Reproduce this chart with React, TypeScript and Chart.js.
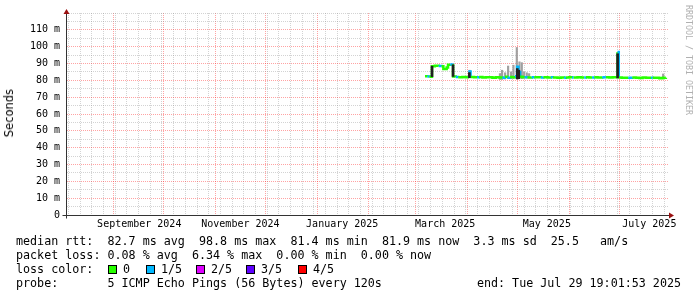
import React, { useEffect, useRef } from "react";
import { Chart, registerables } from "chart.js";

Chart.register(...registerables);

// x values: days since 2024-09-01
const X_MIN = -27.9;
const X_MAX = 332.2;

const monthStartDays = [0, 30, 61, 91, 122, 153, 181, 212, 242, 273, 303];
const monthLabelDays = [15.4, 76, 137, 198.7, 259.6, 321];
const monthLabels = ["September 2024", "November 2024", "January 2025", "March 2025", "May 2025", "July 2025"];
const weekStartDays: number[] = [];
for (let d = -27; d <= 331; d += 7) weekStartDays.push(d);

const Y_MIN = 0;
const Y_MAX = 120;

// median rtt (ms) with number of lost pings (of 5)
const medianDays = [186.6, 188.0, 189.2, 190.8, 192.5, 194.8, 196.5, 197.6, 199.6, 200.4, 201.7, 203.0, 203.4, 205.0, 206.5, 209.0, 211.0, 212.3, 213.3, 213.9, 216.0, 217.8, 219.0, 221.0, 223.0, 225.0, 227.0, 229.0, 231.0, 233.0, 234.5, 236.0, 237.5, 239.0, 240.5, 241.8, 242.6, 243.6, 245.0, 246.3, 248.0, 250.5, 252.0, 254.0, 256.0, 257.5, 260.0, 262.0, 263.2, 266.0, 268.0, 270.0, 271.0, 273.0, 274.7, 275.7, 278.0, 280.0, 282.0, 283.0, 285.0, 286.7, 288.0, 290.0, 292.8, 295.0, 297.0, 299.0, 301.2, 302.0, 302.7, 304.5, 306.0, 308.4, 310.8, 313.0, 315.0, 317.0, 319.0, 322.0, 323.0, 325.0, 327.0, 329.0, 330.9];
const medianMs = [82.4, 82.3, 82.2, 88.3, 88.7, 88.5, 88.4, 86.8, 87.6, 89.2, 89.4, 88.9, 82.3, 82.0, 81.9, 82.0, 81.8, 82.1, 85.2, 82.0, 81.9, 81.8, 82.0, 81.7, 81.8, 81.9, 81.6, 81.8, 81.7, 81.6, 82.2, 81.5, 82.0, 81.8, 82.4, 88.0, 85.0, 82.2, 81.9, 81.8, 81.7, 81.8, 81.9, 81.8, 81.7, 81.8, 81.7, 81.8, 81.7, 81.6, 81.7, 81.6, 81.7, 81.8, 81.7, 81.7, 81.8, 81.7, 81.7, 81.8, 81.7, 81.7, 81.8, 81.7, 81.8, 81.8, 81.7, 81.8, 81.8, 96.8, 81.7, 81.6, 81.5, 81.6, 81.7, 81.6, 81.4, 81.7, 81.5, 81.6, 81.5, 81.6, 81.3, 81.5, 81.6];
const medianLoss = [0, 1, 0, 0, 0, 1, 0, 0, 0, 0, 1, 0, 0, 1, 0, 0, 0, 1, 1, 0, 0, 1, 0, 0, 0, 0, 0, 0, 0, 1, 0, 1, 0, 0, 1, 1, 1, 0, 0, 1, 0, 1, 0, 0, 1, 0, 0, 1, 0, 0, 0, 1, 0, 0, 1, 0, 0, 0, 1, 0, 0, 1, 0, 0, 1, 0, 0, 0, 0, 1, 0, 0, 0, 1, 0, 0, 0, 0, 0, 1, 0, 0, 0, 0, 0];

// light smoke (ping spread)
const smokeDays = [213.3, 231.5, 232.8, 234.6, 236.4, 238.2, 239.6, 241.6, 243.2, 244.6, 246.0, 247.6, 249.0, 329.3];
const smokeLo = [81.5, 80.5, 80.5, 80.8, 81.0, 81.0, 81.0, 81.0, 81.0, 81.0, 81.2, 81.3, 81.5, 81.5];
const smokeHi = [86.0, 84.0, 86.0, 84.5, 88.5, 85.0, 89.0, 99.5, 91.0, 90.5, 85.0, 84.5, 84.0, 83.8];

// dense smoke
const darkDays = [190.8, 203.4, 213.2, 241.9, 242.8, 302.0];
const darkLo = [82.2, 82.3, 81.6, 80.8, 81.0, 81.4];
const darkHi = [88.4, 89.2, 84.6, 87.0, 86.0, 95.8];

const lossColors = ["#26ff00", "#00b8ff", "#dd00ff", "#5e00ff", "#ff0000"];
const lossLabels = ["0", "1/5", "2/5", "3/5", "4/5"];

const rttLine = "median rtt:  82.7 ms avg  98.8 ms max  81.4 ms min  81.9 ms now  3.3 ms sd  25.5   am/s";
const lossLine = "packet loss: 0.08 % avg  6.34 % max  0.00 % min  0.00 % now";
const colorTitle = "loss color:";
const probeLine = "probe:       5 ICMP Echo Pings (56 Bytes) every 120s";
const endText = "end: Tue Jul 29 19:01:53 2025";
const yTitle = "Seconds";
const watermark = "RRDTOOL / TOBI OETIKER";

// layout (pixels)
const boxX = [108, 146, 196, 246, 298];
const boxLabelX = [123, 161, 211, 261, 313];

const MONO = "'DejaVu Sans Mono', monospace";
const MAJOR = "rgba(255,0,0,0.36)";
const MINOR = "rgba(140,140,140,0.38)";

const labelMap = new Map<number, string>();
monthLabelDays.forEach((d, i) => labelMap.set(d, monthLabels[i]));
const monthSet = new Set(monthStartDays);
const weekSet = new Set(weekStartDays);
const allXTicks = [...monthStartDays, ...weekStartDays, ...monthLabelDays].sort((a, b) => a - b);

export default function App() {
  const ref = useRef<HTMLCanvasElement>(null);

  useEffect(() => {
    const canvas = ref.current!;
    const axisPlugin = {
      id: "rrdAxes",
      afterDatasetsDraw(chart: any) {
        const { ctx, chartArea: a } = chart;
        ctx.save();
        ctx.strokeStyle = "#333";
        ctx.lineWidth = 1;
        const xl = Math.round(a.left) - 0.5;
        const yb = Math.round(a.bottom) + 0.5;
        ctx.beginPath();
        ctx.moveTo(xl, a.top);
        ctx.lineTo(xl, yb + 3);
        ctx.moveTo(xl - 4, yb);
        ctx.lineTo(a.right + 2, yb);
        ctx.stroke();
        ctx.fillStyle = "#9a1010";
        ctx.beginPath();
        ctx.moveTo(xl, a.top - 4);
        ctx.lineTo(xl - 3, a.top + 1);
        ctx.lineTo(xl + 3, a.top + 1);
        ctx.closePath();
        ctx.fill();
        ctx.beginPath();
        ctx.moveTo(a.right + 6, yb);
        ctx.lineTo(a.right + 1, yb - 3);
        ctx.lineTo(a.right + 1, yb + 3);
        ctx.closePath();
        ctx.fill();
        ctx.restore();
      },
    };

    const chart = new Chart(canvas, {
      type: "line",
      data: {
        datasets: [
          {
            type: "bar",
            label: "smoke",
            data: smokeDays.map((d, i) => ({ x: d, y: [smokeLo[i], smokeHi[i]] })) as any,
            backgroundColor: "#a0a0a0",
            borderWidth: 0,
            barThickness: 1.5,
            grouped: false,
            order: 3,
          } as any,
          {
            type: "line",
            label: "median",
            data: medianDays.map((d, i) => ({ x: d, y: medianMs[i] })),
            borderColor: lossColors[0],
            borderWidth: 2.5,
            borderCapStyle: "butt",
            pointRadius: 0,
            stepped: true,
            fill: false,
            segment: {
              borderColor: (c: any) => lossColors[medianLoss[c.p0DataIndex]],
            },
            order: 2,
          } as any,
          {
            type: "bar",
            label: "dense smoke",
            data: darkDays.map((d, i) => ({ x: d, y: [darkLo[i], darkHi[i]] })) as any,
            backgroundColor: "#202020",
            borderWidth: 0,
            barThickness: 2,
            grouped: false,
            order: 1,
          } as any,
        ],
      },
      options: {
        animation: false,
        responsive: false,
        devicePixelRatio: 1,
        layout: { padding: { top: 12, right: 29, left: 0, bottom: 0 } },
        plugins: { legend: { display: false }, tooltip: { enabled: false } },
        scales: {
          x: {
            type: "linear",
            min: X_MIN,
            max: X_MAX,
            offset: false,
            afterBuildTicks: (s: any) => {
              s.ticks = allXTicks.map((v) => ({ value: v }));
            },
            afterFit: (s: any) => {
              s.height = 82;
            },
            ticks: {
              autoSkip: false,
              maxRotation: 0,
              minRotation: 0,
              padding: 3,
              color: "#000",
              font: { family: MONO, size: 10 },
              callback: (v: any) => labelMap.get(v) ?? "",
            },
            grid: {
              offset: false,
              drawTicks: false,
              lineWidth: 1,
              color: (c: any) => {
                const v = c.tick?.value;
                if (monthSet.has(v)) return MAJOR;
                if (weekSet.has(v)) return MINOR;
                return "rgba(0,0,0,0)";
              },
            },
            border: { display: false, dash: [1, 1] },
          },
          y: {
            type: "linear",
            min: Y_MIN,
            max: Y_MAX,
            afterFit: (s: any) => {
              s.width = 67;
            },
            ticks: {
              stepSize: 5,
              autoSkip: false,
              padding: 7,
              color: "#000",
              font: { family: MONO, size: 10 },
              callback: (v: any) => {
                if (v === 0) return "0";
                if (v % 10 === 0 && v < Y_MAX) return `${v} m`;
                return "";
              },
            },
            grid: {
              drawTicks: false,
              lineWidth: 1,
              color: (c: any) => {
                const v = c.tick?.value;
                if (v % 10 === 0 && v > 0 && v < Y_MAX) return MAJOR;
                return MINOR;
              },
            },
            border: { display: false, dash: [1, 1] },
          },
        },
      },
      plugins: [axisPlugin],
    });
    return () => chart.destroy();
  }, []);

  const text = (s: string, left: number, top: number, extra: any = {}) => (
    <div
      style={{
        position: "absolute",
        left,
        top,
        fontFamily: MONO,
        fontSize: 11.7,
        lineHeight: "14px",
        whiteSpace: "pre",
        color: "#000",
        ...extra,
      }}
    >
      {s}
    </div>
  );

  return (
    <div style={{ position: "absolute", left: 0, top: 0, width: 697, height: 297, background: "#fff", overflow: "hidden" }}>
      <canvas ref={ref} width={697} height={297} style={{ display: "block", position: "absolute", left: 0, top: 0 }} />
      <div
        style={{
          position: "absolute",
          left: 3,
          top: 89,
          writingMode: "vertical-rl",
          transform: "rotate(180deg)",
          fontFamily: "'DejaVu Sans', sans-serif",
          fontSize: 11.5,
          lineHeight: "13px",
          color: "#000",
        }}
      >
        {yTitle}
      </div>
      <div
        style={{
          position: "absolute",
          left: 684,
          top: 5,
          writingMode: "vertical-rl",
          fontFamily: MONO,
          fontSize: 8.3,
          lineHeight: "9px",
          color: "#b0b0b0",
          whiteSpace: "pre",
        }}
      >
        {watermark}
      </div>
      {text(rttLine, 16, 234)}
      {text(lossLine, 16, 248)}
      {text(colorTitle, 16, 262)}
      {lossLabels.map((s, i) => (
        <React.Fragment key={"c" + i}>
          <div
            style={{
              position: "absolute",
              left: boxX[i],
              top: 265,
              width: 9,
              height: 9,
              boxSizing: "border-box",
              border: "1px solid #000",
              background: lossColors[i],
            }}
          />
          {text(s, boxLabelX[i], 262)}
        </React.Fragment>
      ))}
      {text(probeLine, 16, 276)}
      {text(endText, 0, 276, { left: "auto", right: 16 })}
    </div>
  );
}
